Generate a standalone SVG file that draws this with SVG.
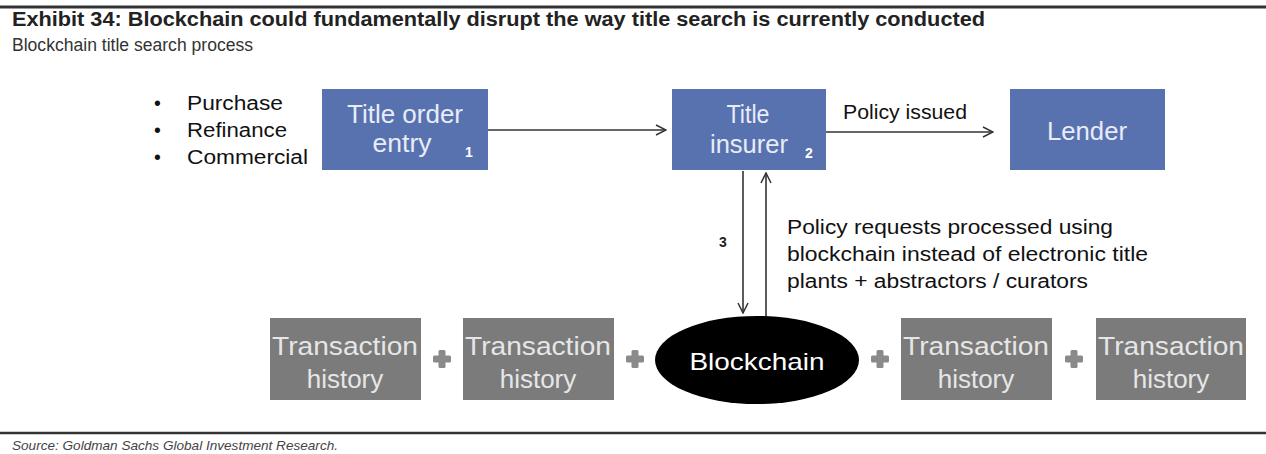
<svg xmlns="http://www.w3.org/2000/svg" width="1266" height="454" viewBox="0 0 1266 454">
  <style>
    text { font-family: "Liberation Sans", Arial, sans-serif; }
    .blue { fill: #5872b0; }
    .gray { fill: #7b7b7b; }
    .boxtxt { fill: #e8ecf6; font-size: 25px; text-anchor: middle; }
    .histtxt { fill: #e6e6e6; font-size: 26px; text-anchor: middle; }
    .num { fill: #ffffff; font-size: 14px; font-weight: bold; }
    .lbl { fill: #111111; font-size: 19.5px; }
    .conn { stroke: #333333; stroke-width: 1.6; fill: none; }
    .plus { fill: #8a8a8a; }
  </style>
  <defs>
    <marker id="open" viewBox="0 0 12 12" refX="11" refY="6" markerWidth="12" markerHeight="12" markerUnits="userSpaceOnUse" orient="auto">
      <path d="M1,1 L11,6 L1,11" fill="none" stroke="#333333" stroke-width="1.5"/>
    </marker>
    <g id="plusSign">
      <rect x="-9" y="-3.5" width="18" height="7" rx="1.5"/>
      <rect x="-3.5" y="-9" width="7" height="18" rx="1.5"/>
    </g>
  </defs>
  <rect width="1266" height="454" fill="#ffffff"/>

  <!-- header -->
  <line x1="0" y1="7" x2="1266" y2="7" stroke="#333333" stroke-width="3"/>
  <text x="12" y="26" font-size="20" font-weight="bold" fill="#222222" textLength="973" lengthAdjust="spacingAndGlyphs">Exhibit 34: Blockchain could fundamentally disrupt the way title search is currently conducted</text>
  <text x="12" y="51" font-size="17.5" fill="#333333" textLength="241" lengthAdjust="spacingAndGlyphs">Blockchain title search process</text>

  <!-- order types -->
  <g id="orderTypes" class="lbl">
    <text x="154" y="110">•</text><text x="187" y="110" textLength="96" lengthAdjust="spacingAndGlyphs">Purchase</text>
    <text x="154" y="137">•</text><text x="187" y="137" textLength="100" lengthAdjust="spacingAndGlyphs">Refinance</text>
    <text x="154" y="164">•</text><text x="187" y="164" textLength="121" lengthAdjust="spacingAndGlyphs">Commercial</text>
  </g>

  <!-- connectors -->
  <g id="connectors">
    <line class="conn" x1="488" y1="130" x2="666" y2="130" marker-end="url(#open)"/>
    <line class="conn" x1="826" y1="132" x2="993" y2="132" marker-end="url(#open)"/>
    <line class="conn" x1="743" y1="171" x2="743" y2="313" marker-end="url(#open)"/>
    <line class="conn" x1="766" y1="317" x2="766" y2="173" marker-end="url(#open)"/>
    <text x="843" y="119" class="lbl" textLength="124" lengthAdjust="spacingAndGlyphs">Policy issued</text>
    <text x="719" y="247" font-size="14" font-weight="bold" fill="#222222">3</text>
    <g class="lbl">
      <text x="787" y="234" textLength="326" lengthAdjust="spacingAndGlyphs">Policy requests processed using</text>
      <text x="787" y="261" textLength="361" lengthAdjust="spacingAndGlyphs">blockchain instead of electronic title</text>
      <text x="787" y="288" textLength="301" lengthAdjust="spacingAndGlyphs">plants + abstractors / curators</text>
    </g>
  </g>

  <!-- top row -->
  <g id="titleOrderEntry">
    <rect class="blue" x="322" y="89" width="166" height="81"/>
    <text class="boxtxt" x="405" y="123" textLength="116" lengthAdjust="spacingAndGlyphs">Title order</text>
    <text class="boxtxt" x="402" y="152" textLength="59" lengthAdjust="spacingAndGlyphs">entry</text>
    <text class="num" x="465" y="157">1</text>
  </g>
  <g id="titleInsurer">
    <rect class="blue" x="672" y="89" width="154" height="81"/>
    <text class="boxtxt" x="748" y="123" textLength="43" lengthAdjust="spacingAndGlyphs">Title</text>
    <text class="boxtxt" x="749" y="153" textLength="78" lengthAdjust="spacingAndGlyphs">insurer</text>
    <text class="num" x="805" y="158">2</text>
  </g>
  <g id="lender">
    <rect class="blue" x="1010" y="89" width="155" height="81"/>
    <text class="boxtxt" x="1087" y="140" textLength="80" lengthAdjust="spacingAndGlyphs">Lender</text>
  </g>

  <!-- bottom row -->
  <g id="history1">
    <rect class="gray" x="270" y="318" width="151" height="82"/>
    <text class="histtxt" x="345" y="355" textLength="146" lengthAdjust="spacingAndGlyphs">Transaction</text>
    <text class="histtxt" x="345" y="388">history</text>
  </g>
  <g id="history2">
    <rect class="gray" x="463" y="318" width="151" height="82"/>
    <text class="histtxt" x="538" y="355" textLength="146" lengthAdjust="spacingAndGlyphs">Transaction</text>
    <text class="histtxt" x="538" y="388">history</text>
  </g>
  <g id="blockchain">
    <ellipse cx="757" cy="360" rx="102" ry="44" fill="#000000"/>
    <text x="757" y="370" font-size="24" fill="#ffffff" text-anchor="middle" textLength="135" lengthAdjust="spacingAndGlyphs">Blockchain</text>
  </g>
  <g id="history3">
    <rect class="gray" x="901" y="318" width="151" height="82"/>
    <text class="histtxt" x="976" y="355" textLength="146" lengthAdjust="spacingAndGlyphs">Transaction</text>
    <text class="histtxt" x="976" y="388">history</text>
  </g>
  <g id="history4">
    <rect class="gray" x="1096" y="318" width="150" height="82"/>
    <text class="histtxt" x="1171" y="355" textLength="146" lengthAdjust="spacingAndGlyphs">Transaction</text>
    <text class="histtxt" x="1171" y="388">history</text>
  </g>
  <g id="plusSigns" class="plus">
    <use href="#plusSign" x="442" y="359"/>
    <use href="#plusSign" x="635" y="359"/>
    <use href="#plusSign" x="880" y="359"/>
    <use href="#plusSign" x="1074" y="359"/>
  </g>

  <!-- footer -->
  <line x1="0" y1="433" x2="1266" y2="433" stroke="#333333" stroke-width="2.5"/>
  <text x="12" y="450" font-size="13.5" font-style="italic" fill="#444444" textLength="326" lengthAdjust="spacingAndGlyphs">Source: Goldman Sachs Global Investment Research.</text>
</svg>
